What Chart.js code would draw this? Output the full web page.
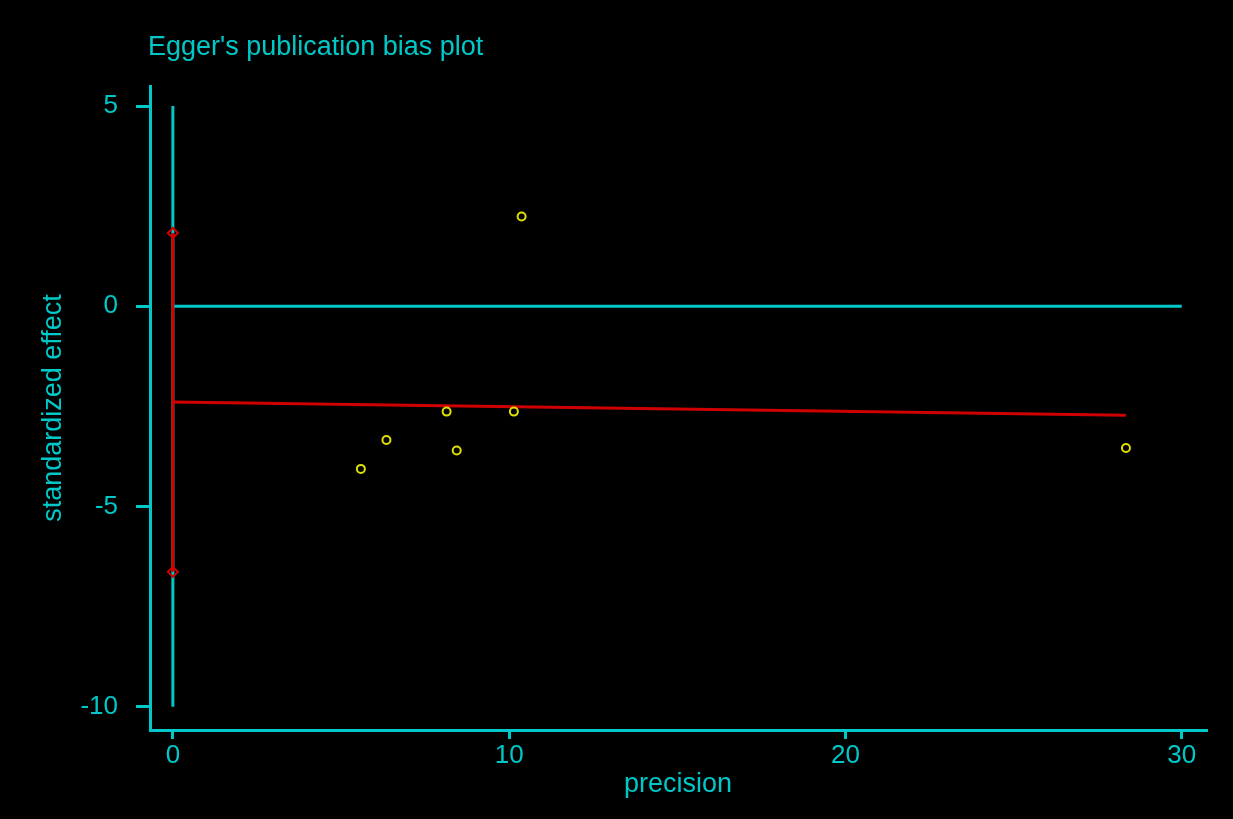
<!DOCTYPE html>
<html>
<head>
<meta charset="utf-8">
<title>Egger's publication bias plot</title>
<script src="https://cdn.jsdelivr.net/npm/chart.js@4.4.1/dist/chart.umd.min.js"></script>
<style>
  html, body { margin: 0; padding: 0; background: #000; }
  #wrap { width: 1233px; height: 819px; }
</style>
</head>
<body>
<div id="wrap"><canvas id="egger"></canvas></div>
<script>
// Study precision (1/SE) and standardized effect (effect/SE)
const precision = [5.59, 6.35, 8.14, 8.44, 10.14, 10.37, 28.34];
const stdEffect = [-4.06, -3.34, -2.63, -3.60, -2.63, 2.24, -3.54];

// Egger regression line, drawn from precision 0 to the largest precision
const fitX = [0, 28.34];
const fitY = [-2.39, -2.72];

// Confidence interval of the intercept (bias), shown at precision 0
const biasCI = [1.83, -6.63];

// Reference lines
const refVerticalY = [-10, 5];   // vertical line at precision 0
const refHorizontalX = [0, 30];  // horizontal line at effect 0

// Tick labels
const xTicks = [0, 10, 20, 30];
const yTicks = [-10, -5, 0, 5];

const CYAN = '#00c8c8';
const RED = '#d00000';
const YELLOW = '#e0e000';
const FONT = "'Liberation Sans', Arial, sans-serif";

const toPoints = (xs, ys) => xs.map((x, i) => ({ x: x, y: ys[i] }));

const background = {
  id: 'background',
  beforeDraw(chart) {
    const ctx = chart.ctx;
    ctx.save();
    ctx.fillStyle = '#000';
    ctx.fillRect(0, 0, chart.width, chart.height);
    ctx.restore();
  }
};

const plotTitle = {
  id: 'plotTitle',
  afterDraw(chart) {
    const ctx = chart.ctx;
    ctx.save();
    ctx.fillStyle = CYAN;
    ctx.font = '27px ' + FONT;
    ctx.textAlign = 'left';
    ctx.textBaseline = 'alphabetic';
    ctx.fillText("Egger's publication bias plot", 148, 55);
    ctx.restore();
  }
};

new Chart(document.getElementById('egger'), {
  type: 'scatter',
  data: {
    datasets: [
      {
        label: 'studies',
        data: toPoints(precision, stdEffect),
        showLine: false,
        pointStyle: 'circle',
        pointRadius: 4,
        pointBorderWidth: 2,
        pointBorderColor: YELLOW,
        pointBackgroundColor: 'rgba(0,0,0,0)',
        order: 0
      },
      {
        label: 'bias CI',
        data: biasCI.map(v => ({ x: 0, y: v })),
        showLine: true,
        borderColor: RED,
        borderWidth: 3,
        pointStyle: 'rectRot',
        pointRadius: 5,
        pointBorderWidth: 2,
        pointBorderColor: RED,
        pointBackgroundColor: 'rgba(0,0,0,0)',
        order: 1
      },
      {
        label: 'regression',
        data: toPoints(fitX, fitY),
        showLine: true,
        borderColor: RED,
        borderWidth: 3,
        pointRadius: 0,
        order: 2
      },
      {
        label: 'zero line',
        data: refHorizontalX.map(x => ({ x: x, y: 0 })),
        showLine: true,
        borderColor: CYAN,
        borderWidth: 3,
        pointRadius: 0,
        order: 3
      },
      {
        label: 'precision zero',
        data: refVerticalY.map(y => ({ x: 0, y: y })),
        showLine: true,
        borderColor: CYAN,
        borderWidth: 3,
        pointRadius: 0,
        order: 4
      }
    ]
  },
  options: {
    responsive: true,
    maintainAspectRatio: false,
    animation: false,
    layout: { padding: { top: 86, right: 27, left: 0, bottom: 0 } },
    plugins: {
      legend: { display: false },
      tooltip: { enabled: false },
      title: { display: false }
    },
    scales: {
      x: {
        type: 'linear',
        min: -0.68,
        max: 30.72,
        afterBuildTicks: s => { s.ticks = xTicks.map(v => ({ value: v })); },
        afterFit: s => { s.height = 89; },
        border: { display: true, color: CYAN, width: 3 },
        grid: { drawOnChartArea: false, drawTicks: true, tickLength: 9, color: CYAN, lineWidth: 3 },
        ticks: {
          color: CYAN,
          font: { family: FONT, size: 26 },
          padding: 1,
          maxRotation: 0,
          callback: v => String(v)
        },
        title: {
          display: true,
          text: 'precision',
          color: CYAN,
          font: { family: FONT, size: 27 },
          padding: { top: 0, bottom: 18 }
        }
      },
      y: {
        type: 'linear',
        min: -10.58,
        max: 5.5,
        afterBuildTicks: s => { s.ticks = yTicks.map(v => ({ value: v })); },
        afterFit: s => { s.width = 150; },
        border: { display: true, color: CYAN, width: 3 },
        grid: { drawOnChartArea: false, drawTicks: true, tickLength: 14, color: CYAN, lineWidth: 3 },
        ticks: {
          color: CYAN,
          font: { family: FONT, size: 26 },
          padding: 18,
          callback: v => String(v)
        },
        title: {
          display: true,
          text: 'standardized effect',
          color: CYAN,
          font: { family: FONT, size: 27 },
          padding: { top: 37, bottom: 0 }
        }
      }
    }
  },
  plugins: [background, plotTitle]
});
</script>
</body>
</html>
